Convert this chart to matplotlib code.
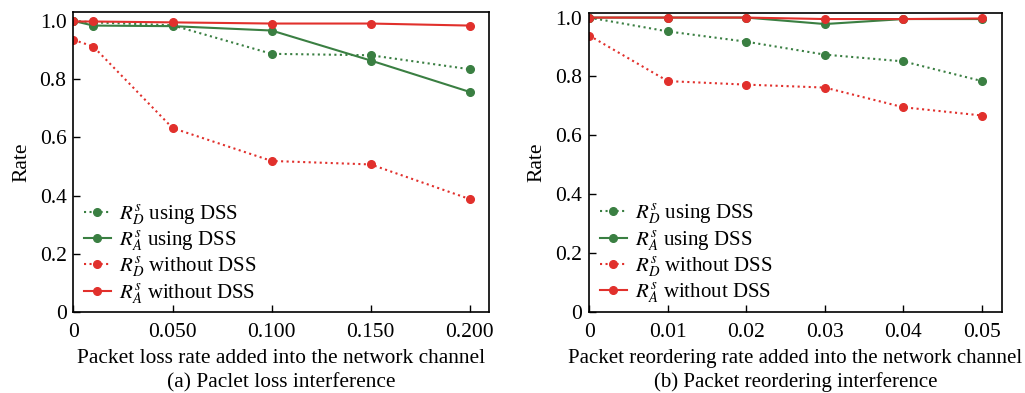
import matplotlib
matplotlib.use("Agg")
import matplotlib.pyplot as plt

plt.rcParams['font.family'] = ['Liberation Serif', 'DejaVu Serif']
plt.rcParams['mathtext.fontset'] = 'stix'

# Panel (a): packet loss
loss_x = [0, 0.01, 0.05, 0.10, 0.15, 0.20]
loss_rd_dss = [1.0, 0.995, 0.985, 0.887, 0.882, 0.834]
loss_ra_dss = [1.0, 0.984, 0.982, 0.967, 0.864, 0.756]
loss_rd_no = [0.935, 0.912, 0.632, 0.519, 0.507, 0.388]
loss_ra_no = [0.998, 0.998, 0.995, 0.991, 0.991, 0.984]
loss_ticks = [0, 0.05, 0.10, 0.15, 0.20]
loss_ticklabels = ["0", "0.050", "0.100", "0.150", "0.200"]

# Panel (b): packet reordering
reo_x = [0, 0.01, 0.02, 0.03, 0.04, 0.05]
reo_rd_dss = [1.0, 0.953, 0.918, 0.874, 0.851, 0.784]
reo_ra_dss = [1.0, 1.0, 1.0, 0.978, 0.995, 0.995]
reo_rd_no = [0.939, 0.784, 0.772, 0.762, 0.695, 0.667]
reo_ra_no = [1.0, 1.0, 1.0, 0.995, 0.995, 0.997]
reo_ticks = [0, 0.01, 0.02, 0.03, 0.04, 0.05]
reo_ticklabels = ["0", "0.01", "0.02", "0.03", "0.04", "0.05"]

y_ticks = [0, 0.2, 0.4, 0.6, 0.8, 1.0]
y_ticklabels = ["0", "0.2", "0.4", "0.6", "0.8", "1.0"]

labels = [r"$R_D^s$ using DSS", r"$R_A^s$ using DSS",
          r"$R_D^s$ without DSS", r"$R_A^s$ without DSS"]

GREEN = "#3a7f42"
RED = "#e1302c"
FS = 15.5

fig = plt.figure(figsize=(10.25, 3.93), dpi=100)
ax1 = fig.add_axes([0.0717, 0.206, 0.4054, 0.763])
ax2 = fig.add_axes([0.5748, 0.207, 0.4024, 0.761])

panels = [
    (ax1, loss_x, loss_rd_dss, loss_ra_dss, loss_rd_no, loss_ra_no, loss_ticks, loss_ticklabels, 0.2097,
     "Packet loss rate added into the network channel", "(a) Paclet loss interference", 1.03, 15.4),
    (ax2, reo_x, reo_rd_dss, reo_ra_dss, reo_rd_no, reo_ra_no, reo_ticks, reo_ticklabels, 0.0525,
     "Packet reordering rate added into the network channel", "(b) Packet reordering interference", 1.017, 15.0),
]

for ax, x, rd_dss, ra_dss, rd_no, ra_no, xt, xtl, xmax, xlabel, caption, ytop, xfs in panels:
    ax.plot(x, rd_dss, linestyle=":", color=GREEN, marker="o", markersize=5.5, linewidth=1.5, label=labels[0])
    ax.plot(x, ra_dss, linestyle="-", color=GREEN, marker="o", markersize=5.5, linewidth=1.5, label=labels[1])
    ax.plot(x, rd_no, linestyle=":", color=RED, marker="o", markersize=5.5, linewidth=1.5, label=labels[2])
    ax.plot(x, ra_no, linestyle="-", color=RED, marker="o", markersize=5.5, linewidth=1.5, label=labels[3])
    ax.set_xlim(0, xmax)
    ax.set_ylim(0, ytop)
    ax.set_xticks(xt)
    ax.set_xticklabels(xtl)
    ax.set_yticks(y_ticks)
    ax.set_yticklabels(y_ticklabels)
    ax.tick_params(direction="in", length=5, labelsize=FS, width=1)
    ax.tick_params(axis="x", pad=8)
    ax.tick_params(axis="y", pad=5)
    for s in ax.spines.values():
        s.set_linewidth(1.2)
    ax.set_ylabel("Rate", fontsize=FS, labelpad=6)
    ax.set_xlabel(xlabel + "\n" + caption, fontsize=xfs, labelpad=5, linespacing=1.32)
    ax.legend(loc="lower left", frameon=False, fontsize=15, handlelength=1.3,
              handletextpad=0.4, labelspacing=0.12, borderaxespad=0.3,
              bbox_to_anchor=(-0.01, -0.027))

fig.savefig("out.png", dpi=100)
